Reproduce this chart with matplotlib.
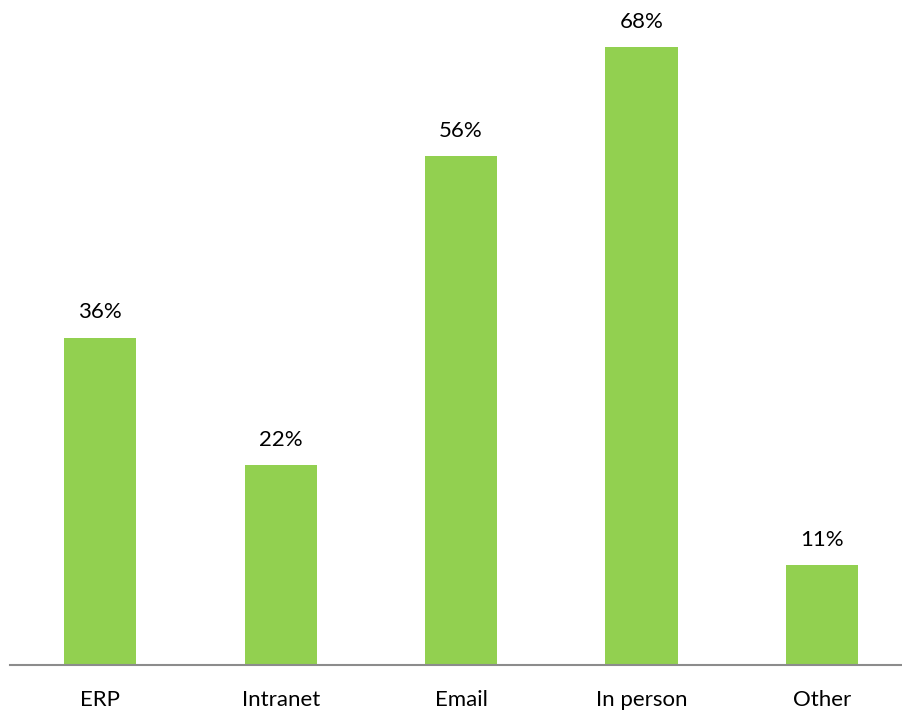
import matplotlib.pyplot as plt

plt.rcParams['font.family'] = ['Lato', 'DejaVu Sans']

categories = ["ERP", "Intranet", "Email", "In person", "Other"]
values = [0.36, 0.22, 0.56, 0.68, 0.11]

fig = plt.figure(figsize=(9.03, 7.14), dpi=100)
ax = fig.add_axes([10 / 903, 49 / 714, 895 / 903, 665 / 714])

x = range(len(categories))
bars = ax.bar(x, values, width=0.4, color="#92D050")

for b, v in zip(bars, values):
    ax.annotate("{:.0%}".format(v), (b.get_x() + b.get_width() / 2, v),
                xytext=(0, 11), textcoords="offset points",
                ha="center", va="bottom", fontsize=16, color="black")

ax.set_xlim(-0.5, 4.46)
ax.set_ylim(0, 665 / 909)
ax.set_xticks(list(x))
ax.set_xticklabels(categories, fontsize=16)
ax.tick_params(axis="x", length=0, pad=18)
ax.set_yticks([])
for s in ["top", "left", "right"]:
    ax.spines[s].set_visible(False)
ax.spines["bottom"].set_color("#8c8c8c")
ax.spines["bottom"].set_linewidth(1.5)

fig.savefig("out.png", dpi=100)
